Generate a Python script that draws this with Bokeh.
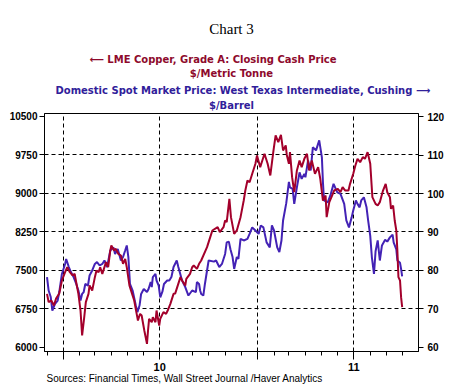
import pandas as pd
from bokeh.plotting import figure
from bokeh.models import (Range1d, LinearAxis, FixedTicker, Grid, Title, ColumnDataSource)
from bokeh.embed import file_html
from bokeh.resources import INLINE

# ---------------- data ----------------
copper_dates = [
    "2009-12-01", "2009-12-04", "2009-12-09", "2009-12-14", "2009-12-18", "2009-12-24", "2009-12-29",
    "2010-01-04", "2010-01-08", "2010-01-13", "2010-01-18", "2010-01-22", "2010-01-26", "2010-01-29",
    "2010-02-02", "2010-02-05", "2010-02-09", "2010-02-12", "2010-02-17", "2010-02-19", "2010-02-24",
    "2010-03-01", "2010-03-04", "2010-03-08", "2010-03-11", "2010-03-15", "2010-03-22", "2010-03-26",
    "2010-03-30", "2010-04-01", "2010-04-06", "2010-04-09", "2010-04-14", "2010-04-19", "2010-04-23",
    "2010-04-27", "2010-04-30", "2010-05-05", "2010-05-10", "2010-05-14", "2010-05-18", "2010-05-21",
    "2010-05-25", "2010-05-28", "2010-06-02", "2010-06-07", "2010-06-09", "2010-06-11", "2010-06-16",
    "2010-06-18", "2010-06-23", "2010-06-25", "2010-06-30", "2010-07-02", "2010-07-08", "2010-07-13",
    "2010-07-16", "2010-07-21", "2010-07-27", "2010-07-30", "2010-08-09", "2010-08-12", "2010-08-18",
    "2010-08-20", "2010-08-27", "2010-08-31", "2010-09-03", "2010-09-09", "2010-09-13", "2010-09-17",
    "2010-09-28", "2010-10-04", "2010-10-08", "2010-10-18", "2010-10-22", "2010-10-29", "2010-11-01",
    "2010-11-04", "2010-11-09", "2010-11-12", "2010-11-18", "2010-11-23", "2010-11-30", "2010-12-06",
    "2010-12-09", "2010-12-13", "2010-12-17", "2010-12-22", "2010-12-28", "2010-12-31", "2011-01-06",
    "2011-01-10", "2011-01-14", "2011-01-20", "2011-01-25", "2011-01-31", "2011-02-04", "2011-02-09",
    "2011-02-14", "2011-02-18", "2011-02-23", "2011-02-25", "2011-03-01", "2011-03-03", "2011-03-07",
    "2011-03-11", "2011-03-16", "2011-03-21", "2011-03-25", "2011-03-30", "2011-04-04", "2011-04-08",
    "2011-04-13", "2011-04-19", "2011-04-25", "2011-04-29", "2011-05-04", "2011-05-09", "2011-05-11",
    "2011-05-16", "2011-05-20", "2011-05-25", "2011-06-01", "2011-06-06", "2011-06-10", "2011-06-15",
    "2011-06-21", "2011-06-24", "2011-06-30", "2011-07-04", "2011-07-08", "2011-07-13", "2011-07-18",
    "2011-07-22", "2011-07-27", "2011-08-01", "2011-08-03", "2011-08-05", "2011-08-11", "2011-08-15",
    "2011-08-19", "2011-08-25", "2011-08-30", "2011-09-02", "2011-09-07", "2011-09-09", "2011-09-13",
    "2011-09-16", "2011-09-19", "2011-09-21", "2011-09-23", "2011-09-26", "2011-09-28", "2011-09-30",
]
copper_values = [
    7045, 6883, 6916, 6818, 6955, 7052, 7305,
    7467, 7564, 7467, 7403, 7435, 7208, 7045,
    6720, 6234, 6590, 6883, 7045, 7208, 7110,
    7370, 7500, 7467, 7564, 7435, 7662, 7564,
    7890, 7987, 7890, 7923, 7825, 7792, 7630,
    7727, 7564, 7208, 7045, 6916, 6688, 6526,
    6656, 6623, 6331, 6071, 6331, 6559, 6493,
    6590, 6493, 6720, 6428, 6559, 6688, 6656,
    6720, 6850, 7045, 7050, 7370, 7305, 7208,
    7338, 7435, 7564, 7597, 7532, 7630, 7695,
    7955, 8149, 8279, 8344, 8247, 8344, 8474,
    8441, 8896, 8539, 8214, 8279, 8539, 8863,
    9058, 9253, 9220, 9383, 9578, 9740, 9513,
    9643, 9773, 9578, 9351, 9838, 10130, 9999,
    10140, 9838, 9935, 9750, 9578, 9805, 9318,
    9025, 9448, 9643, 9513, 9675, 9773, 9448,
    9643, 9383, 9513, 9286, 8863, 8961, 8539,
    8831, 8928, 9058, 9091, 9025, 9123, 9058,
    9058, 9188, 9383, 9545, 9675, 9610, 9708,
    9675, 9805, 9578, 9253, 8928, 8798, 8766,
    8831, 9058, 9188, 9025, 8928, 8701, 8766,
    8474, 8279, 7890, 7370, 7305, 6980, 6785,
]

oil_dates = [
    "2009-12-01", "2009-12-04", "2009-12-08", "2009-12-11", "2009-12-16", "2009-12-21", "2009-12-24",
    "2009-12-29", "2010-01-04", "2010-01-06", "2010-01-11", "2010-01-15", "2010-01-20", "2010-01-25",
    "2010-01-29", "2010-02-02", "2010-02-05", "2010-02-08", "2010-02-11", "2010-02-16", "2010-02-19",
    "2010-02-24", "2010-03-01", "2010-03-05", "2010-03-10", "2010-03-15", "2010-03-19", "2010-03-24",
    "2010-03-30", "2010-04-05", "2010-04-08", "2010-04-13", "2010-04-19", "2010-04-23", "2010-04-27",
    "2010-04-30", "2010-05-03", "2010-05-06", "2010-05-11", "2010-05-17", "2010-05-20", "2010-05-24",
    "2010-05-27", "2010-06-01", "2010-06-07", "2010-06-10", "2010-06-14", "2010-06-16", "2010-06-18",
    "2010-06-23", "2010-06-25", "2010-06-29", "2010-07-02", "2010-07-06", "2010-07-09", "2010-07-15",
    "2010-07-19", "2010-07-23", "2010-07-27", "2010-08-02", "2010-08-05", "2010-08-12", "2010-08-18",
    "2010-08-24", "2010-08-31", "2010-09-07", "2010-09-09", "2010-09-13", "2010-09-15", "2010-09-17",
    "2010-09-21", "2010-09-24", "2010-09-28", "2010-10-01", "2010-10-11", "2010-10-15", "2010-10-21",
    "2010-10-26", "2010-11-01", "2010-11-04", "2010-11-08", "2010-11-11", "2010-11-15", "2010-11-18",
    "2010-11-23", "2010-11-26", "2010-11-30", "2010-12-06", "2010-12-13", "2010-12-17", "2010-12-22",
    "2010-12-28", "2011-01-03", "2011-01-07", "2011-01-12", "2011-01-18", "2011-01-24", "2011-01-28",
    "2011-02-01", "2011-02-07", "2011-02-11", "2011-02-15", "2011-02-18", "2011-02-24", "2011-03-01",
    "2011-03-03", "2011-03-08", "2011-03-11", "2011-03-16", "2011-03-21", "2011-03-25", "2011-03-30",
    "2011-04-01", "2011-04-06", "2011-04-11", "2011-04-15", "2011-04-21", "2011-04-27", "2011-05-02",
    "2011-05-04", "2011-05-06", "2011-05-13", "2011-05-18", "2011-05-24", "2011-05-31", "2011-06-06",
    "2011-06-13", "2011-06-17", "2011-06-22", "2011-06-27", "2011-06-30", "2011-07-05", "2011-07-08",
    "2011-07-12", "2011-07-15", "2011-07-20", "2011-07-25", "2011-07-28", "2011-08-01", "2011-08-04",
    "2011-08-08", "2011-08-11", "2011-08-15", "2011-08-19", "2011-08-23", "2011-08-29", "2011-09-02",
    "2011-09-07", "2011-09-12", "2011-09-14", "2011-09-19", "2011-09-21", "2011-09-26", "2011-09-28",
    "2011-09-30",
]
oil_values = [
    78.3, 74.8, 73.1, 69.6, 71.3, 72.2, 74.4,
    79.1, 81.7, 83.0, 80.9, 79.6, 78.3, 76.5,
    74.8, 72.2, 73.9, 74.4, 76.5, 76.1, 78.7,
    80.0, 81.7, 82.2, 81.3, 81.7, 82.6, 80.9,
    85.2, 86.0, 84.3, 85.6, 82.6, 83.5, 85.2,
    86.5, 83.5, 76.5, 74.8, 70.9, 69.2, 70.9,
    73.9, 75.2, 74.4, 75.2, 77.0, 75.7, 78.3,
    79.1, 77.4, 76.1, 73.0, 74.5, 76.5, 77.4,
    77.4, 78.3, 80.9, 82.6, 80.9, 77.4, 75.7,
    73.5, 74.8, 74.4, 77.0, 76.5, 74.8, 73.9,
    73.5, 76.5, 80.0, 82.6, 82.3, 82.6, 80.9,
    81.7, 84.3, 87.3, 87.5, 85.5, 83.5, 80.4,
    83.5, 83.0, 88.2, 87.8, 88.2, 89.5, 91.2,
    90.4, 89.5, 91.7, 91.2, 87.3, 86.0, 91.7,
    90.4, 86.0, 84.8, 87.8, 93.0, 97.5, 103.0,
    101.6, 101.2, 97.3, 101.6, 105.5, 103.8, 105.1,
    104.2, 108.6, 106.0, 112.0, 111.2, 113.8, 109.4,
    102.9, 98.2, 97.7, 99.5, 102.5, 100.3, 99.9,
    97.3, 93.0, 91.2, 93.8, 95.6, 98.2, 97.3,
    96.4, 98.2, 99.0, 96.4, 93.0, 89.0, 83.5,
    79.1, 85.0, 87.8, 82.6, 86.5, 88.0, 87.5,
    88.6, 89.3, 87.3, 85.5, 82.6, 82.0, 80.4,
    78.5,
]

copper_ticks = [6000, 6750, 7500, 8250, 9000, 9750, 10500]
copper_grid = [6750, 7500, 8250, 9000, 9750]
oil_ticks = [60, 70, 80, 90, 100, 110, 120]
half_year_ticks = ["2010-01-01", "2010-07-01", "2011-01-01", "2011-07-01"]
month_ticks = ["2009-12-01", "2010-01-01", "2010-02-01", "2010-03-01", "2010-04-01", "2010-05-01",
               "2010-06-01", "2010-07-01", "2010-08-01", "2010-09-01", "2010-10-01", "2010-11-01",
               "2010-12-01", "2011-01-01", "2011-02-01", "2011-03-01", "2011-04-01", "2011-05-01",
               "2011-06-01", "2011-07-01", "2011-08-01", "2011-09-01", "2011-10-01", "2011-11-01"]
year_labels = {"2010-01-01": "", "2010-07-01": "10", "2011-01-01": "", "2011-07-01": "11"}

title_text = "Chart 3"
copper_name = "\u27f5 LME Copper, Grade A: Closing Cash Price"
copper_unit = "$/Metric Tonne"
oil_name = "Domestic Spot Market Price: West Texas Intermediate, Cushing \u27f6"
oil_unit = "$/Barrel"
source_text = "Sources:  Financial Times, Wall Street Journal /Haver Analytics"

RED = "#A3002B"
RED_TXT = "#8E0A2C"
BLUE = "#4322B5"
BLUE_TXT = "#30209A"


def ms(s):
    return pd.Timestamp(s).value / 1e6


p = figure(width=464, height=387, x_axis_type="datetime", output_backend="svg",
           toolbar_location=None, title=None,
           x_range=Range1d(ms("2009-11-26 06:00"), ms("2011-10-30 18:00")),
           y_range=Range1d(5922, 10558),
           min_border_left=44, min_border_right=46, min_border_top=113, min_border_bottom=36)
p.extra_y_ranges = {"oil": Range1d(58.96, 120.78)}
p.background_fill_color = "white"
p.border_fill_color = "white"
p.outline_line_color = "black"
p.outline_line_width = 1
p.xgrid.visible = False
p.ygrid.visible = False

# grids
p.add_layout(Grid(dimension=1, ticker=FixedTicker(ticks=copper_grid), grid_line_color="black",
                  grid_line_dash="4 3", grid_line_width=1))
p.add_layout(Grid(dimension=0, ticker=FixedTicker(ticks=[ms(d) for d in half_year_ticks]),
                  grid_line_color="black", grid_line_dash="4 3", grid_line_width=1))

lab_font = "Liberation Sans"

# left axis
ya = p.yaxis[0]
ya.ticker = FixedTicker(ticks=copper_ticks)
ya.major_tick_out = 5
ya.major_tick_in = 0
ya.minor_tick_out = 0
ya.major_label_standoff = 2
ya.major_label_text_font = lab_font
ya.major_label_text_font_style = "bold"
ya.major_label_text_font_size = "10px"
ya.major_label_text_color = "black"
ya.axis_line_color = "black"

# right axis
ra = LinearAxis(y_range_name="oil", ticker=FixedTicker(ticks=oil_ticks))
ra.major_tick_out = 5
ra.major_tick_in = 0
ra.minor_tick_out = 0
ra.major_label_standoff = 4
ra.major_label_text_font = lab_font
ra.major_label_text_font_style = "bold"
ra.major_label_text_font_size = "10px"
ra.major_label_text_color = "black"
p.add_layout(ra, "right")

# bottom axis
xa = p.xaxis[0]
xa.ticker = FixedTicker(ticks=[ms(d) for d in half_year_ticks], minor_ticks=[ms(d) for d in month_ticks])
xa.major_tick_out = 8
xa.major_tick_in = 0
xa.minor_tick_out = 4
xa.minor_tick_in = 0
xa.major_label_standoff = 3
xa.major_label_overrides = {ms(k): v for k, v in year_labels.items()}
xa.major_label_text_font = lab_font
xa.major_label_text_font_style = "bold"
xa.major_label_text_font_size = "11px"
xa.major_label_text_color = "black"

# series
oil_src = ColumnDataSource(dict(date=pd.to_datetime(oil_dates), value=oil_values))
cu_src = ColumnDataSource(dict(date=pd.to_datetime(copper_dates), value=copper_values))
p.line("date", "value", source=oil_src, y_range_name="oil", line_color=BLUE, line_width=2)
p.line("date", "value", source=cu_src, line_color=RED, line_width=2)

# header texts (stacked from the frame upward)
leg_font = "DejaVu Sans"
p.add_layout(Title(text=oil_unit, align="center", offset=1, standoff=6, text_font=leg_font,
                   text_font_style="bold", text_font_size="10px", text_color=BLUE_TXT), "above")
p.add_layout(Title(text=oil_name, align="left", offset=11, standoff=-2, text_font=leg_font,
                   text_font_style="bold", text_font_size="10px", text_color=BLUE_TXT), "above")
p.add_layout(Title(text=copper_unit, align="center", offset=0, standoff=9, text_font=leg_font,
                   text_font_style="bold", text_font_size="10px", text_color=RED_TXT), "above")
p.add_layout(Title(text=copper_name, align="left", offset=45, standoff=-6, text_font=leg_font,
                   text_font_style="bold", text_font_size="10px", text_color=RED_TXT), "above")
p.add_layout(Title(text=title_text, align="center", offset=0, standoff=36, text_font="Liberation Serif",
                   text_font_style="normal", text_font_size="15px", text_color="black"), "above")

# source note
p.add_layout(Title(text=source_text, align="left", offset=2, standoff=-20, text_font="Liberation Sans",
                   text_font_style="normal", text_font_size="10px", text_color="black"), "below")

open("out.html", "w").write(file_html(p, INLINE))
